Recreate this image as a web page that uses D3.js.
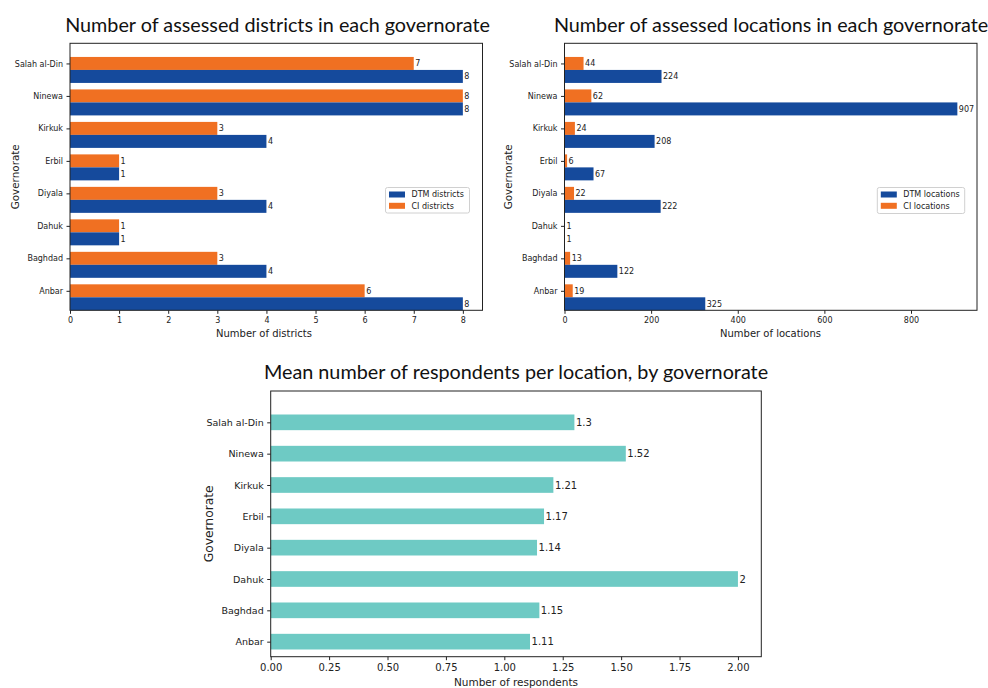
<!DOCTYPE html>
<html>
<head>
<meta charset="utf-8">
<script src="https://cdn.jsdelivr.net/npm/d3@7/dist/d3.min.js"></script>
<style>
  html, body { margin: 0; padding: 0; background: #fff; }
  svg { display: block; }
  .tick text { font-family: "DejaVu Sans", sans-serif; fill: #222; }
  .tick line { stroke: #222; }
</style>
</head>
<body>
<svg id="chart" width="988" height="688"></svg>
<script>
// Governorates, bottom to top
const governorates = ["Anbar", "Baghdad", "Dahuk", "Diyala", "Erbil", "Kirkuk", "Ninewa", "Salah al-Din"];

// Districts assessed per governorate
const dtmDistricts = [8, 4, 1, 4, 1, 4, 8, 8];
const ciDistricts  = [6, 3, 1, 3, 1, 3, 8, 7];

// Locations assessed per governorate
const dtmLocations = [325, 122, 1, 222, 67, 208, 907, 224];
const ciLocations  = [19, 13, 1, 22, 6, 24, 62, 44];

// Mean respondents per location
const meanRespondents = [1.11, 1.15, 2, 1.14, 1.17, 1.21, 1.52, 1.3];

// Axis ticks
const districtTicks = [0, 1, 2, 3, 4, 5, 6, 7, 8];
const locationTicks = [0, 200, 400, 600, 800];
const respondentTicks = [0, 0.25, 0.5, 0.75, 1, 1.25, 1.5, 1.75, 2];

const BLUE = "#154a9c";
const ORANGE = "#f07022";
const TEAL = "#6ecac4";
const TITLE_FONT = "Lato, 'Open Sans', sans-serif";
const TEXT_FONT = "'DejaVu Sans', sans-serif";

const svg = d3.select("#chart");

function drawPanel(opt) {
  const g = svg.append("g");
  const x = d3.scaleLinear().domain(opt.xDomain).range([opt.left, opt.right]);
  const y = d3.scaleLinear().domain(opt.yDomain).range([opt.bottom, opt.top]);

  // bars
  opt.series.forEach(s => {
    g.selectAll(null)
      .data(s.values)
      .enter().append("rect")
      .attr("x", x(0))
      .attr("y", (d, i) => y(i + s.offset + opt.barHeight / 2))
      .attr("width", d => x(d) - x(0))
      .attr("height", (d, i) => y(i + s.offset - opt.barHeight / 2) - y(i + s.offset + opt.barHeight / 2))
      .attr("fill", s.color);

    // value labels
    g.selectAll(null)
      .data(s.values)
      .enter().append("text")
      .attr("x", d => x(d) + 1.5)
      .attr("y", (d, i) => y(i + s.offset))
      .attr("dy", "0.36em")
      .attr("font-family", TEXT_FONT)
      .attr("font-size", opt.valueSize)
      .attr("fill", "#222")
      .text(d => d);
  });

  // x axis
  const xa = g.append("g")
    .attr("transform", `translate(0,${opt.bottom})`)
    .call(d3.axisBottom(x).tickValues(opt.xTicks).tickFormat(opt.xFormat)
      .tickSize(3.5).tickPadding(3.5).tickSizeOuter(0));
  xa.select(".domain").remove();
  xa.selectAll(".tick text").attr("font-size", opt.tickSize);

  // y axis
  const ya = g.append("g")
    .attr("transform", `translate(${opt.left},0)`)
    .call(d3.axisLeft(y).tickValues(d3.range(governorates.length))
      .tickFormat(i => governorates[i])
      .tickSize(3.5).tickPadding(3.5).tickSizeOuter(0));
  ya.select(".domain").remove();
  ya.selectAll(".tick text").attr("font-size", opt.yTickSize);

  // frame
  g.append("rect")
    .attr("x", opt.left).attr("y", opt.top)
    .attr("width", opt.right - opt.left).attr("height", opt.bottom - opt.top)
    .attr("fill", "none").attr("stroke", "#222").attr("stroke-width", 1);

  // title
  g.append("text")
    .attr("x", opt.titleX).attr("y", opt.titleY)
    .attr("text-anchor", "middle")
    .attr("font-family", TITLE_FONT)
    .attr("font-size", opt.titleSize)
    .attr("fill", "#111")
    .text(opt.title);

  // axis labels
  g.append("text")
    .attr("x", opt.xLabelX).attr("y", opt.xLabelY)
    .attr("text-anchor", "middle")
    .attr("font-family", TEXT_FONT)
    .attr("font-size", opt.xLabelSize)
    .attr("fill", "#222")
    .text(opt.xLabel);

  g.append("text")
    .attr("transform", `translate(${opt.yLabelX},${(opt.top + opt.bottom) / 2}) rotate(-90)`)
    .attr("text-anchor", "middle")
    .attr("font-family", TEXT_FONT)
    .attr("font-size", opt.yLabelSize)
    .attr("fill", "#222")
    .text("Governorate");

  // legend
  if (opt.legend) {
    const L = opt.legend;
    const lg = g.append("g");
    lg.append("rect")
      .attr("x", L.x).attr("y", L.y).attr("width", L.w).attr("height", L.h)
      .attr("rx", 2).attr("fill", "#fff").attr("stroke", "#d0d0d0").attr("stroke-width", 1);
    L.items.forEach((it, k) => {
      const cy = L.y + 7 + k * 11.3;
      lg.append("rect")
        .attr("x", L.x + 3.5).attr("y", cy - 3).attr("width", 16).attr("height", 6)
        .attr("fill", it.color);
      lg.append("text")
        .attr("x", L.x + 26).attr("y", cy).attr("dy", "0.36em")
        .attr("font-family", TEXT_FONT).attr("font-size", 8).attr("fill", "#222")
        .text(it.label);
    });
  }
}

// Districts panel
drawPanel({
  left: 70, right: 482.5, top: 43.3, bottom: 310.3,
  xDomain: [0, 8.4], yDomain: [-0.6, 7.62],
  xTicks: districtTicks, xFormat: d3.format("d"),
  barHeight: 0.4,
  series: [
    { values: ciDistricts, color: ORANGE, offset: 0 },
    { values: dtmDistricts, color: BLUE, offset: -0.4 }
  ],
  valueSize: 8, tickSize: 8, yTickSize: 8,
  title: "Number of assessed districts in each governorate",
  titleX: 277.5, titleY: 31.5, titleSize: 19.8,
  xLabel: "Number of districts", xLabelX: 264, xLabelY: 337, xLabelSize: 10,
  yLabelX: 19, yLabelSize: 10.4,
  legend: { x: 385.5, y: 187.5, w: 84, h: 25.5,
    items: [{ label: "DTM districts", color: BLUE }, { label: "CI districts", color: ORANGE }] }
});

// Locations panel
drawPanel({
  left: 564.5, right: 977, top: 43.3, bottom: 310.3,
  xDomain: [0, 907 * 1.05], yDomain: [-0.6, 7.62],
  xTicks: locationTicks, xFormat: d3.format("d"),
  barHeight: 0.4,
  series: [
    { values: ciLocations, color: ORANGE, offset: 0 },
    { values: dtmLocations, color: BLUE, offset: -0.4 }
  ],
  valueSize: 8, tickSize: 8, yTickSize: 8,
  title: "Number of assessed locations in each governorate",
  titleX: 771, titleY: 31.5, titleSize: 19.8,
  xLabel: "Number of locations", xLabelX: 770.5, xLabelY: 337, xLabelSize: 10,
  yLabelX: 512, yLabelSize: 10.4,
  legend: { x: 877.3, y: 187.5, w: 87.4, h: 26,
    items: [{ label: "DTM locations", color: BLUE }, { label: "CI locations", color: ORANGE }] }
});

// Respondents panel
drawPanel({
  left: 270.7, right: 761.3, top: 391, bottom: 656.7,
  xDomain: [0, 2.1], yDomain: [-0.48, 8.0],
  xTicks: respondentTicks, xFormat: d3.format(".2f"),
  barHeight: 0.5,
  series: [
    { values: meanRespondents, color: TEAL, offset: 0 }
  ],
  valueSize: 10, tickSize: 10, yTickSize: 9.5,
  title: "Mean number of respondents per location, by governorate",
  titleX: 516, titleY: 378.5, titleSize: 19.8,
  xLabel: "Number of respondents", xLabelX: 516, xLabelY: 685.5, xLabelSize: 10.5,
  yLabelX: 213, yLabelSize: 12.3,
  legend: null
});
</script>
</body>
</html>
